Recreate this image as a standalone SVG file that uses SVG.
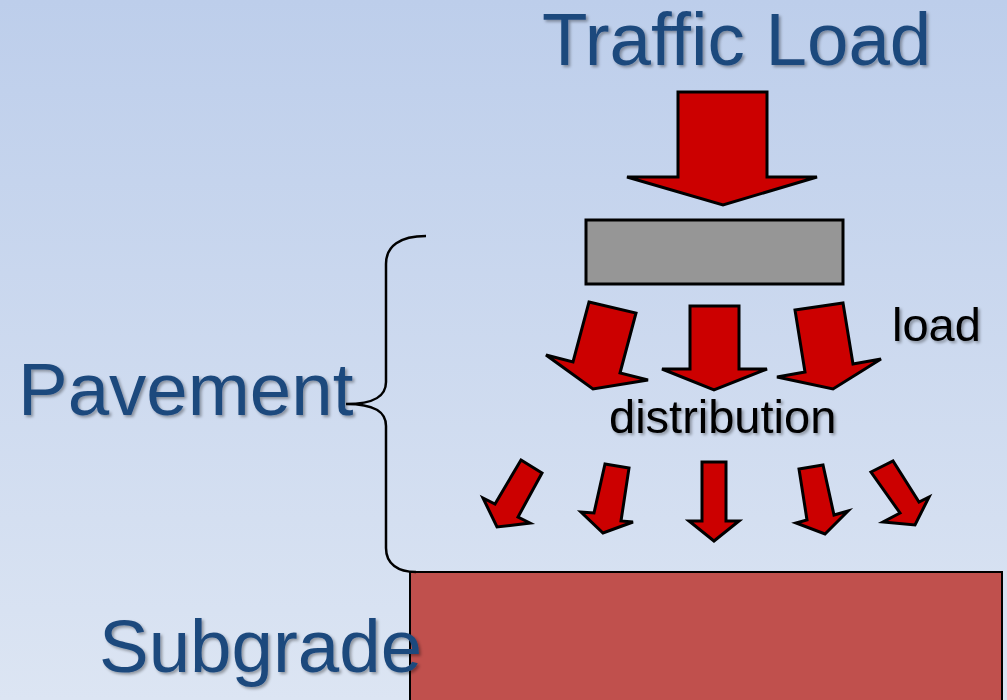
<svg xmlns="http://www.w3.org/2000/svg" width="1007" height="700" viewBox="0 0 1007 700">
  <defs>
    <linearGradient id="bg" x1="0" y1="0" x2="0" y2="1">
      <stop offset="0" stop-color="#BDCEEB"/>
      <stop offset="1" stop-color="#DCE5F3"/>
    </linearGradient>
    <filter id="shadow" x="-10%" y="-20%" width="120%" height="150%">
      <feDropShadow dx="2" dy="2" stdDeviation="1.5" flood-color="#000" flood-opacity="0.35"/>
    </filter>
  </defs>
  <style>
    .title { font-family: "Liberation Sans", Arial, sans-serif; font-size: 74.5px; fill: #1F497D; filter: url(#shadow); }
    .label { font-family: "Liberation Sans", Arial, sans-serif; font-size: 47px; fill: #000; filter: url(#shadow); }
    .arrow { fill: #CC0000; stroke: #000; stroke-width: 3; stroke-linejoin: miter; }
    .brace { fill: none; stroke: #000; stroke-width: 2.5; }
  </style>

  <rect width="1007" height="700" fill="url(#bg)"/>

  <!-- subgrade block -->
  <g id="subgrade">
    <rect x="410" y="572" width="592" height="140" fill="#C0504D" stroke="#000" stroke-width="2"/>
  </g>

  <!-- wheel contact plate -->
  <g id="plate">
    <rect x="586" y="220" width="257" height="64" fill="#969696" stroke="#000" stroke-width="3"/>
  </g>

  <!-- pavement brace -->
  <g id="brace">
    <path class="brace" d="M426,236 C400,236 386,246 386,264 L386,382 C386,396 375,404 346,404 C375,404 386,412 386,426 L386,548 C386,564 398,572 416,572"/>
  </g>

  <g id="connectors">
    <!-- traffic load arrow -->
    <polygon class="arrow" points="678,92 767,92 767,177 817,177 723,205 627,177 678,177"/>

    <!-- first distribution row -->
    <polygon class="arrow" points="589,302 636,313 620,373 648,380 593,389 546,355 573,362"/>
    <polygon class="arrow" points="690,306 739,306 739,369 767,369 714,390 662,369 690,369"/>
    <polygon class="arrow" points="795,310 843,303 853,364 881,359 833,389 777,377 805,372"/>

    <!-- second distribution row -->
    <polygon class="arrow" points="521,460 542,473 518,517 530,523 497,527 483,498 495,504"/>
    <polygon class="arrow" points="605,464 629,468 621,521 633,522 603,533 581,512 594,513"/>
    <polygon class="arrow" points="702,462 726,462 726,521 739,521 714,541 689,521 702,521"/>
    <polygon class="arrow" points="799,469 823,465 834,515 848,511 825,534 796,523 807,520"/>
    <polygon class="arrow" points="871,472 893,461 919,502 929,497 915,525 883,522 900,513"/>
  </g>

  <g id="labels">
    <text class="title" x="542" y="65">Traffic Load</text>
    <text class="title" x="18" y="415">Pavement</text>
    <text class="title" x="99" y="672">Subgrade</text>
    <text class="label" x="892" y="341">load</text>
    <text class="label" x="609" y="433">distribution</text>
  </g>
</svg>
